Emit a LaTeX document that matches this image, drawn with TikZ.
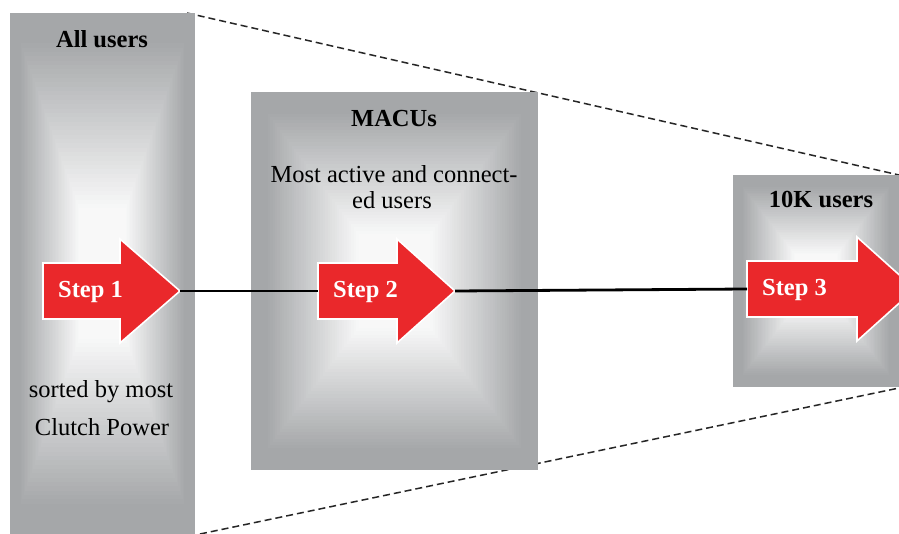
\documentclass[tikz,border=0pt]{standalone}
\usepackage{fontspec}
\setmainfont{Liberation Serif}
\definecolor{boxgray}{HTML}{A5A7A9}
\definecolor{stepred}{HTML}{EA282B}
\newcommand\gradbox[4]{%
  \foreach \gi in {0,...,59}{%
    \pgfmathsetmacro\gT{\gi/60}%
    \pgfmathsetmacro\gP{max(0,min(92,(\gT-0.1)/0.7*100))}%
    \fill[white!\gP!boxgray] ({#1+\gT*0.5*(#3-#1)},{#2+\gT*0.5*(#4-#2)}) rectangle ({#3-\gT*0.5*(#3-#1)},{#4-\gT*0.5*(#4-#2)});
  }}
\newcommand\steparrow[6]{% name, tail x, head base x, tip x, center y, label
  \draw[arrowstyle] (#2,#5-28) -- (#3,#5-28) -- (#3,#5-52) -- (#4,#5) -- (#3,#5+52) -- (#3,#5+28) -- (#2,#5+28) -- cycle;
  \coordinate (#1tail) at (#2,#5);
  \coordinate (#1tip) at (#4,#5);
  \node[steplabel] (#1label) at (#2+15,#5+7) {#6};
}
\begin{document}
\begin{tikzpicture}[x=1pt,y=-1pt,
  arrowstyle/.style={fill=stepred,draw=white,line width=1.6pt,line join=miter},
  steplabel/.style={anchor=base west,inner sep=0pt,text=white,font=\fontsize{24.5}{28}\selectfont\bfseries},
  heading/.style={anchor=base,inner sep=0pt,font=\fontsize{24.5}{28}\selectfont\bfseries},
  body/.style={anchor=base,inner sep=0pt,font=\fontsize{24.5}{28}\selectfont},
  funnel/.style={dash pattern=on 7pt off 4pt,line width=1.5pt,black!85},
  conn/.style={line width=2.8pt,black}]
\useasboundingbox (0,0) rectangle (899,534);
\clip (0,0) rectangle (899,534);
\fill[white] (0,0) rectangle (899,534);
% funnel outline
\coordinate (ftopstart) at (187,13);
\coordinate (ftopend) at (899,175);
\coordinate (fbotstart) at (200,534);
\coordinate (fbotend) at (899,388);
\draw[funnel] (ftopstart) -- (ftopend);
\draw[funnel] (fbotstart) -- (fbotend);
% boxes
\gradbox{10}{13}{195}{534}
\gradbox{251}{92}{538}{470}
\gradbox{733}{175}{899}{387}
% texts
\node[heading] (allusers) at (102,48) {All users};
\node[heading] (macus) at (394,127) {MACUs};
\node[heading] (tenk) at (821,208) {10K users};
\node[body] (macuA) at (394,183) {Most active and connect-};
\node[body] (macuB) at (392,209) {ed users};
\node[body] (sortA) at (101,397) {sorted by most};
\node[body] (sortB) at (102,435) {Clutch Power};
% arrows
\steparrow{sa}{43}{120}{180}{291}{Step 1}
\steparrow{sb}{318}{397}{455}{291}{Step 2}
\steparrow{sc}{747}{857}{915}{289}{Step 3}
% connectors
\draw[conn] (satip) -- (sbtail);
\draw[conn] (sbtip) -- (sctail);
\end{tikzpicture}
\end{document}
